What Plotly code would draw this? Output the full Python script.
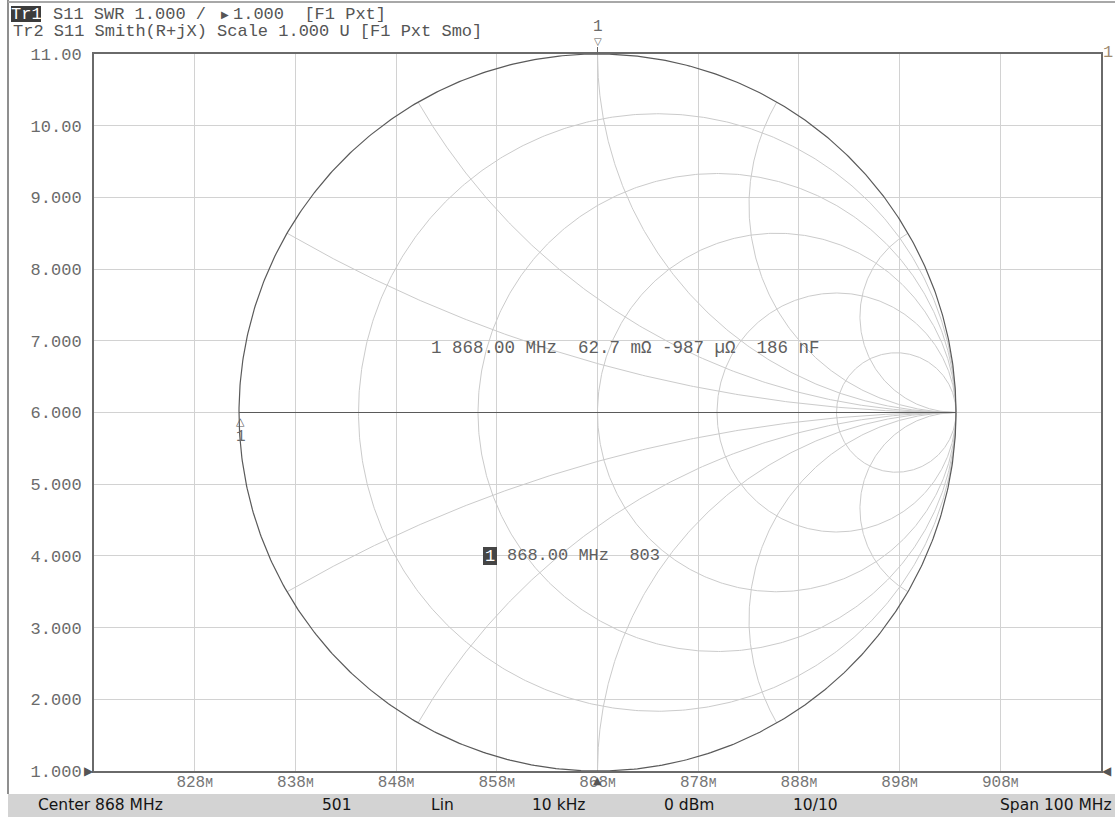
import numpy as np
import plotly.graph_objects as go

# ---- sweep / SWR axis ----
f_start, f_stop = 818, 918                      # MHz (center 868, span 100)
freq_ticks = [828, 838, 848, 858, 868, 878, 888, 898, 908]
freq_tick_text = [f"{f}<span style='font-size:13px'>M</span>" for f in freq_ticks]
swr_min, swr_max = 1, 11
swr_ticks = [1, 2, 3, 4, 5, 6, 7, 8, 9, 10, 11]
swr_tick_text = ["1.000", "2.000", "3.000", "4.000", "5.000", "6.000",
                 "7.000", "8.000", "9.000", "10.00", "11.00"]

# ---- Smith chart grid ----
smith_r = [0.2, 0.5, 1.0, 2.0, 5.0]             # constant-resistance circles
smith_x = [0.268, 0.577, 1.0, 1.732, 3.732]     # constant-reactance arcs
z0 = 50.0

# ---- marker 1 ----
mk_freq = 868.00        # MHz
mk_R = 62.7e-3          # ohm
mk_X = -987e-6          # ohm
mk_C = 186e-9           # F
mk_swr = 803

# ---- status bar ----
status_items = [("Center 868 MHz", 36, "left"), ("501", 337, "center"),
                ("Lin", 442, "center"), ("10 kHz", 558, "center"),
                ("0 dBm", 689, "center"), ("10/10", 815, "center"),
                ("Span 100 MHz", 1114, "right")]

W, H = 1115, 817
L, R, T, B = 94, 1101, 54, 771
PW, PH = R - L, B - T
half_w = (PW / 2) / (PH / 2)

GRID = "#d2d2d2"
SMITH_GRID = "#cbcbcb"
DARK = "#5a5a5a"
MONO = "Liberation Mono, DejaVu Sans Mono, monospace"
SANS = "DejaVu Sans, sans-serif"


def px(xp):
    return (xp - L) / PW


def py(yp):
    return (B - yp) / PH


fig = go.Figure()

# empty trace to carry the rectangular SWR axes
fig.add_trace(go.Scatter(x=[f_start, f_stop], y=[swr_min, swr_min], mode="lines",
                         line=dict(width=0), hoverinfo="skip", showlegend=False))

# constant-resistance circles
th = np.linspace(0, 2 * np.pi, 720)
for r in smith_r:
    c, rad = r / (1 + r), 1 / (1 + r)
    fig.add_trace(go.Scatter(x=c + rad * np.cos(th), y=rad * np.sin(th), mode="lines",
                             line=dict(color=SMITH_GRID, width=1), xaxis="x2", yaxis="y2",
                             hoverinfo="skip", showlegend=False))

# constant-reactance arcs
rr = np.concatenate([[0.0], np.logspace(-3, 4, 900)])
for xv in smith_x:
    for s in (1, -1):
        z = rr + 1j * s * xv
        g = (z - 1) / (z + 1)
        fig.add_trace(go.Scatter(x=g.real, y=g.imag, mode="lines",
                                 line=dict(color=SMITH_GRID, width=1), xaxis="x2", yaxis="y2",
                                 hoverinfo="skip", showlegend=False))

# outer boundary and real axis
fig.add_trace(go.Scatter(x=np.cos(th), y=np.sin(th), mode="lines",
                         line=dict(color=DARK, width=1.2), xaxis="x2", yaxis="y2",
                         hoverinfo="skip", showlegend=False))
fig.add_trace(go.Scatter(x=[-1, 1], y=[0, 0], mode="lines",
                         line=dict(color=DARK, width=1.2), xaxis="x2", yaxis="y2",
                         hoverinfo="skip", showlegend=False))

# marker 1 reflection coefficient
zm = (mk_R + 1j * mk_X) / z0
gm = (zm - 1) / (zm + 1)

shapes = [
    # status bar
    dict(type="rect", xref="paper", yref="paper", x0=px(8), x1=px(W + 2), y0=py(794), y1=py(H + 2),
         fillcolor="#d3d3d3", line=dict(width=0), layer="below"),
    # window border
    dict(type="line", xref="paper", yref="paper", x0=px(8), x1=px(8), y0=py(0), y1=py(794),
         line=dict(color="#8f8f8f", width=2)),
    dict(type="line", xref="paper", yref="paper", x0=px(8), x1=px(W), y0=py(2), y1=py(2),
         line=dict(color="#a8a8a8", width=2)),
    # trace-name badge
    dict(type="rect", xref="paper", yref="paper", x0=px(11), x1=px(41), y0=py(22), y1=py(6),
         fillcolor="#3c3c3c", line=dict(width=0)),
    # marker badge
    dict(type="rect", xref="paper", yref="paper", x0=px(483), x1=px(497), y0=py(565), y1=py(547),
         fillcolor="#454545", line=dict(width=0)),
    # SWR marker stem at the top edge
    dict(type="line", xref="x", yref="paper", x0=mk_freq, x1=mk_freq, y0=1.0, y1=py(47),
         line=dict(color="#666666", width=1)),
]

NB = "\u00a0"
ann = []


def text(x, y, s, size=17, color="#555555", font=MONO, xanchor="left", yanchor="middle"):
    ann.append(dict(x=px(x), y=py(y), xref="paper", yref="paper", text=s, showarrow=False,
                    xanchor=xanchor, yanchor=yanchor, font=dict(family=font, size=size, color=color)))


# header lines
text(26, 14.5, "Tr1", color="#ffffff", xanchor="center")
text(51, 14.5, "S11 SWR 1.000 /", color="#555555")
text(225, 14.5, "\u25B6", size=10, color="#555555", xanchor="center", font=SANS)
text(231, 14.5, f"1.000{NB}{NB}[F1 Pxt]", color="#555555")
text(11, 31.5, "Tr2 S11 Smith(R+jX) Scale 1.000 U [F1 Pxt Smo]", color="#555555")

# marker readouts
readout = (f"1 {mk_freq:.2f} MHz{NB}{NB}{mk_R * 1e3:.1f} m\u03A9 {mk_X * 1e6:.0f} \u00B5\u03A9"
           f"{NB}{NB}{mk_C * 1e9:.0f} nF")
text(429, 348, readout, size=17.5, color="#5f5f5f")
text(490, 556, "1", size=17, color="#ffffff", xanchor="center")
text(505, 555, f"{mk_freq:.2f} MHz{NB}{NB}{mk_swr}", size=17, color="#5f5f5f")

# reference level pointers and trace number
text(89, 771, "\u25B6", size=12, color="#555555", xanchor="center", font=SANS)
text(1107, 771, "\u25C0", size=12, color="#555555", xanchor="center", font=SANS)
text(1108, 53, "1", size=17, color="#a08c72", xanchor="center")

# status bar texts
for s, x, anc in status_items:
    text(x, 805, s, size=15.5, color="#151515", font=SANS, xanchor=anc)

# SWR marker (off-scale, pinned to the top edge)
ann.append(dict(x=mk_freq, y=1.0, xref="x", yref="paper", yshift=5, text="\u25BD", showarrow=False,
                xanchor="center", yanchor="bottom", font=dict(family=SANS, size=10, color="#555555")))
ann.append(dict(x=mk_freq, y=py(27), xref="x", yref="paper", text="1", showarrow=False,
                xanchor="center", yanchor="middle", font=dict(family=MONO, size=16, color="#6a6a6a")))
# stimulus pointer on the frequency axis
ann.append(dict(x=mk_freq, y=0.0, xref="x", yref="paper", yshift=-1, text="\u25B2", showarrow=False,
                xanchor="center", yanchor="top", font=dict(family=SANS, size=11, color="#555555")))

# Smith marker
ann.append(dict(x=gm.real, y=gm.imag, xref="x2", yref="y2", yshift=0, xshift=1, text="\u25B3",
                showarrow=False, xanchor="center", yanchor="top",
                font=dict(family=SANS, size=11, color="#555555")))
ann.append(dict(x=gm.real, y=gm.imag, xref="x2", yref="y2", yshift=-24, xshift=1, text="1",
                showarrow=False, xanchor="center", yanchor="middle",
                font=dict(family=MONO, size=16, color="#6a6a6a")))

fig.update_layout(
    width=W, height=H, autosize=False,
    margin=dict(l=L, r=W - R, t=T, b=H - B, pad=0),
    paper_bgcolor="#ffffff", plot_bgcolor="#ffffff",
    showlegend=False,
    xaxis=dict(range=[f_start, f_stop], tickvals=freq_ticks, ticktext=freq_tick_text,
               showgrid=True, gridcolor=GRID, gridwidth=1, zeroline=False,
               showline=True, linecolor="#6a6a6a", linewidth=2, mirror=True,
               ticks="", ticklabelstandoff=-5,
               tickfont=dict(family=MONO, size=16, color="#757575"), fixedrange=True),
    yaxis=dict(range=[swr_min, swr_max], tickvals=swr_ticks, ticktext=swr_tick_text,
               showgrid=True, gridcolor=GRID, gridwidth=1, zeroline=False,
               showline=True, linecolor="#6a6a6a", linewidth=2, mirror=True,
               ticks="", ticklabelstandoff=7,
               tickfont=dict(family=MONO, size=17, color="#6b6b6b"), fixedrange=True),
    xaxis2=dict(range=[-half_w, half_w], overlaying="x", visible=False, fixedrange=True),
    yaxis2=dict(range=[-1, 1], overlaying="y", visible=False, fixedrange=True),
    shapes=shapes,
    annotations=ann,
)

fig.write_html("out.html")
